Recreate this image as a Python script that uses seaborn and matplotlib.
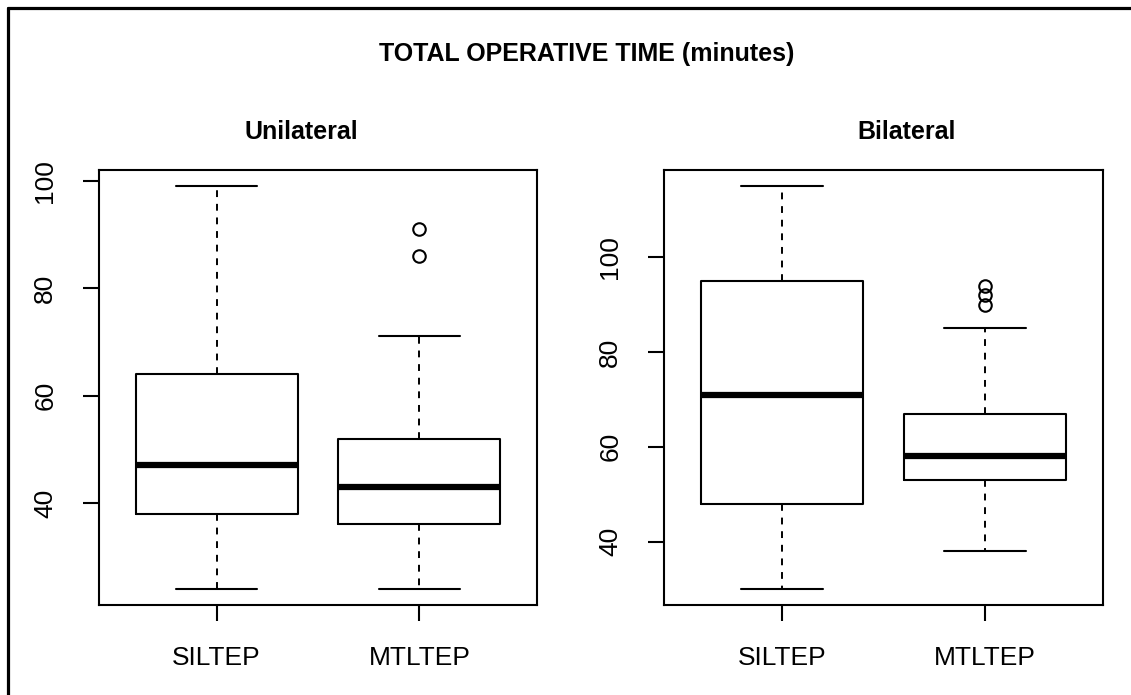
import numpy as np
import matplotlib
matplotlib.use("Agg")
import matplotlib.pyplot as plt
from matplotlib.lines import Line2D
import seaborn as sns

# -------------------------------
# Data
# -------------------------------
groups = ["SILTEP", "MTLTEP"]

uni_whislo = [24, 24]
uni_q1 = [38, 36]
uni_med = [47, 43]
uni_q3 = [64, 52]
uni_whishi = [99, 71]
uni_fliers = [[], [91, 86]]

bi_whislo = [30, 38]
bi_q1 = [48, 53]
bi_med = [71, 58]
bi_q3 = [95, 67]
bi_whishi = [115, 85]
bi_fliers = [[], [94, 92, 90]]

y_ticks = [40, 60, 80, 100]


def make_stats(lo, q1, med, q3, hi, fl):
    return [dict(label=g, whislo=lo[i], q1=q1[i], med=med[i], q3=q3[i],
                 whishi=hi[i], fliers=fl[i]) for i, g in enumerate(groups)]


# -------------------------------
# Style
# -------------------------------
sns.set_theme(style="white")
plt.rcParams["font.family"] = ["Liberation Sans", "DejaVu Sans"]
plt.rcParams["text.color"] = "black"
plt.rcParams["axes.edgecolor"] = "black"
plt.rcParams["axes.linewidth"] = 1.5

fig = plt.figure(figsize=(11.31, 6.95), dpi=100)

# title, stats, axes rect, title x centre (figure fraction)
panels = [
    ("Unilateral", make_stats(uni_whislo, uni_q1, uni_med, uni_q3, uni_whishi, uni_fliers),
     [99 / 1131, 90 / 695, 438 / 1131, 435 / 695], 301.5 / 1131),
    ("Bilateral", make_stats(bi_whislo, bi_q1, bi_med, bi_q3, bi_whishi, bi_fliers),
     [664 / 1131, 90 / 695, 439 / 1131, 435 / 695], 907 / 1131),
]

for title, stats, rect, tx in panels:
    ax = fig.add_axes(rect)
    ax.bxp(stats, positions=[1, 2], widths=0.8, capwidths=0.4,
           boxprops=dict(color="black", lw=1.5),
           medianprops=dict(color="black", lw=4.5, solid_capstyle="butt"),
           whiskerprops=dict(color="black", lw=1.4, linestyle=(0, (3.5, 3.5))),
           capprops=dict(color="black", lw=1.5),
           flierprops=dict(marker="o", markerfacecolor="none", markeredgecolor="black",
                           markersize=9, markeredgewidth=1.5))

    # R-style axis ranges (data range + 4 %)
    vals = [s[k] for s in stats for k in ("whislo", "whishi")]
    vals += [v for s in stats for v in s["fliers"]]
    lo, hi = np.min(vals), np.max(vals)
    pad = (hi - lo) * 0.04
    ax.set_ylim(lo - pad, hi + pad)
    ax.set_xlim(0.5 - 0.08, 2.5 + 0.08)

    ax.set_yticks(y_ticks)
    ax.set_yticklabels([str(t) for t in y_ticks], rotation=90, va="center")
    ax.set_xticks([1, 2])
    ax.set_xticklabels(groups)
    ax.tick_params(axis="both", direction="out", length=11.5, width=1.5,
                   color="black", labelsize=19, labelcolor="black",
                   left=True, bottom=True)
    ax.tick_params(axis="y", pad=18.5)
    ax.tick_params(axis="x", pad=18)
    for sp in ax.spines.values():
        sp.set_linewidth(1.5)
        sp.set_color("black")

    fig.text(tx, 1 - 139 / 695, title, ha="center", va="baseline",
             fontsize=18, fontweight="bold")

fig.text(0.5186, 1 - 61.5 / 695, "TOTAL OPERATIVE TIME (minutes)", ha="center",
         va="baseline", fontsize=18, fontweight="bold")

# outer frame (only top and left edges visible in the reference)
fig.add_artist(Line2D([8 / 1131, 8 / 1131], [0, 1 - 8 / 695], color="black", lw=2.3,
                      transform=fig.transFigure))
fig.add_artist(Line2D([8 / 1131, 1], [1 - 8 / 695, 1 - 8 / 695], color="black", lw=2.3,
                      transform=fig.transFigure))

fig.savefig("out.png", dpi=100, facecolor="white")
